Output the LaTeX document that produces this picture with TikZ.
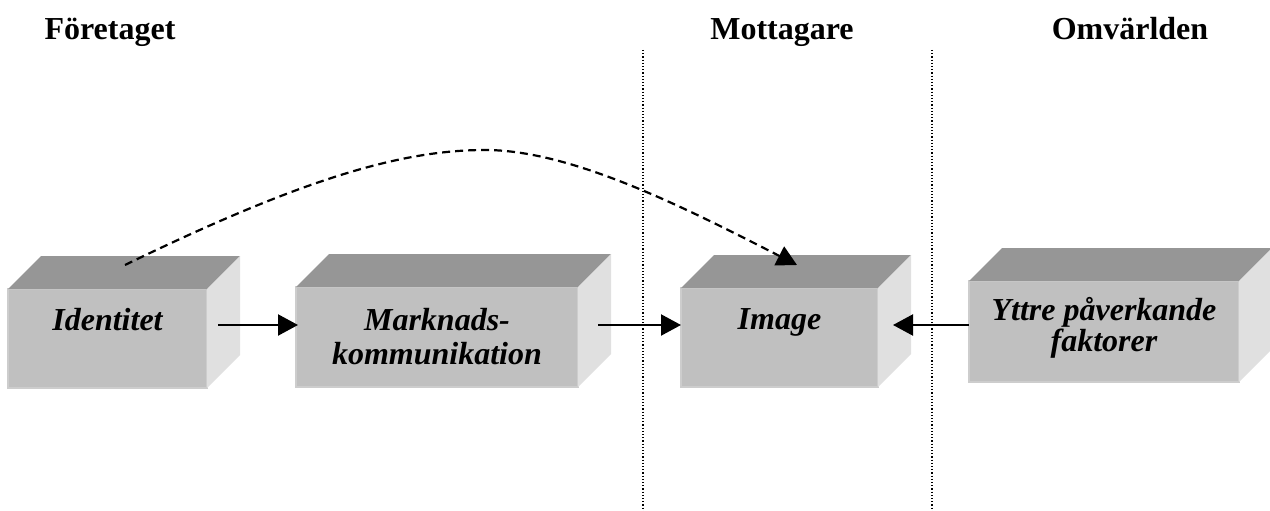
\documentclass[tikz,border=0pt]{standalone}
\usepackage{fontspec}
\setmainfont{Liberation Serif}
\usetikzlibrary{arrows.meta}
\definecolor{topc}{HTML}{969696}
\definecolor{frontc}{HTML}{C0C0C0}
\definecolor{sidec}{HTML}{E0E0E0}
\definecolor{edgec}{HTML}{CDCDCD}
\newcommand{\cubefaces}[1]{%
  \fill[topc] (#1.north west) -- ++(33pt,33pt) -- ([xshift=33pt,yshift=33pt]#1.north east) -- (#1.north east) -- cycle;
  \fill[sidec] (#1.north east) -- ++(33pt,33pt) -- ([xshift=33pt,yshift=33pt]#1.south east) -- (#1.south east) -- cycle;
}
\begin{document}
\begin{tikzpicture}[x=1pt,y=-1pt,
  front/.style={fill=frontc, draw=edgec, line width=1.5pt, inner sep=0pt, outer sep=0pt},
  lbl/.style={font=\fontsize{32}{34}\selectfont\bfseries\itshape, align=center, inner sep=0pt},
  ttl/.style={font=\fontsize{32}{34}\selectfont\bfseries, inner sep=0pt},
  arr/.style={line width=2.2pt, -{Triangle[length=20pt,width=21pt]}},
  dline/.style={line width=2.2pt, dash pattern=on 8pt off 5pt, -{Triangle[length=20pt,width=21pt]}},
  sep/.style={line width=1.2pt, dash pattern=on 1.2pt off 2pt}]
\useasboundingbox (0,0) rectangle (1270,511);
\fill[white] (0,0) rectangle (1270,511);

% titles
\node[ttl, anchor=base] (h1) at (110,40) {Företaget};
\node[ttl, anchor=base] (h2) at (782,40) {Mottagare};
\node[ttl, anchor=base] (h3) at (1130,40) {Omvärlden};

% separators
\coordinate (s1t) at (643,50);
\coordinate (s1b) at (643,511);
\coordinate (s2t) at (932,50);
\coordinate (s2b) at (932,511);
\draw[sep] (s1t) -- (s1b);
\draw[sep] (s2t) -- (s2b);

% boxes
\node[front, minimum width=199pt, minimum height=99pt] (f1) at (107.5,338.5) {};
\node[front, minimum width=282pt, minimum height=100pt] (f2) at (437,337) {};
\node[front, minimum width=197pt, minimum height=99pt] (f3) at (779.5,337.5) {};
\node[front, minimum width=270pt, minimum height=101pt] (f4) at (1104,331.5) {};
\cubefaces{f1}
\cubefaces{f2}
\cubefaces{f3}
\cubefaces{f4}

% labels
\node[lbl, anchor=base] (t1) at (107.5,330.5) {Identitet};
\node[lbl, anchor=base] (t2) at (437,364) {Marknads-\\kommunikation};
\node[lbl, anchor=base] (t3) at (779.5,329) {Image};
\node[lbl, anchor=base, font=\fontsize{32}{29}\selectfont\bfseries\itshape] (t4) at (1104,351) {Yttre påverkande\\faktorer};

% arrows
\draw[arr] ([xshift=11pt,yshift=13.5pt]f1.east) -- ([xshift=2pt,yshift=12pt]f2.west);
\draw[arr] ([xshift=20pt,yshift=12pt]f2.east) -- ([yshift=12.5pt]f3.west);
\draw[arr] ([yshift=6.5pt]f4.west) -- ([xshift=15pt,yshift=12.5pt]f3.east);

% dashed curve
\coordinate (ds) at ([xshift=17.5pt,yshift=24pt]f1.north);
\coordinate (de) at ([xshift=17.5pt,yshift=23pt]f3.north);
\draw[dline] (ds) .. controls (300,180) and (400,150) .. (485,150)
  .. controls (570,150) and (680,205) .. (de);
\end{tikzpicture}
\end{document}
